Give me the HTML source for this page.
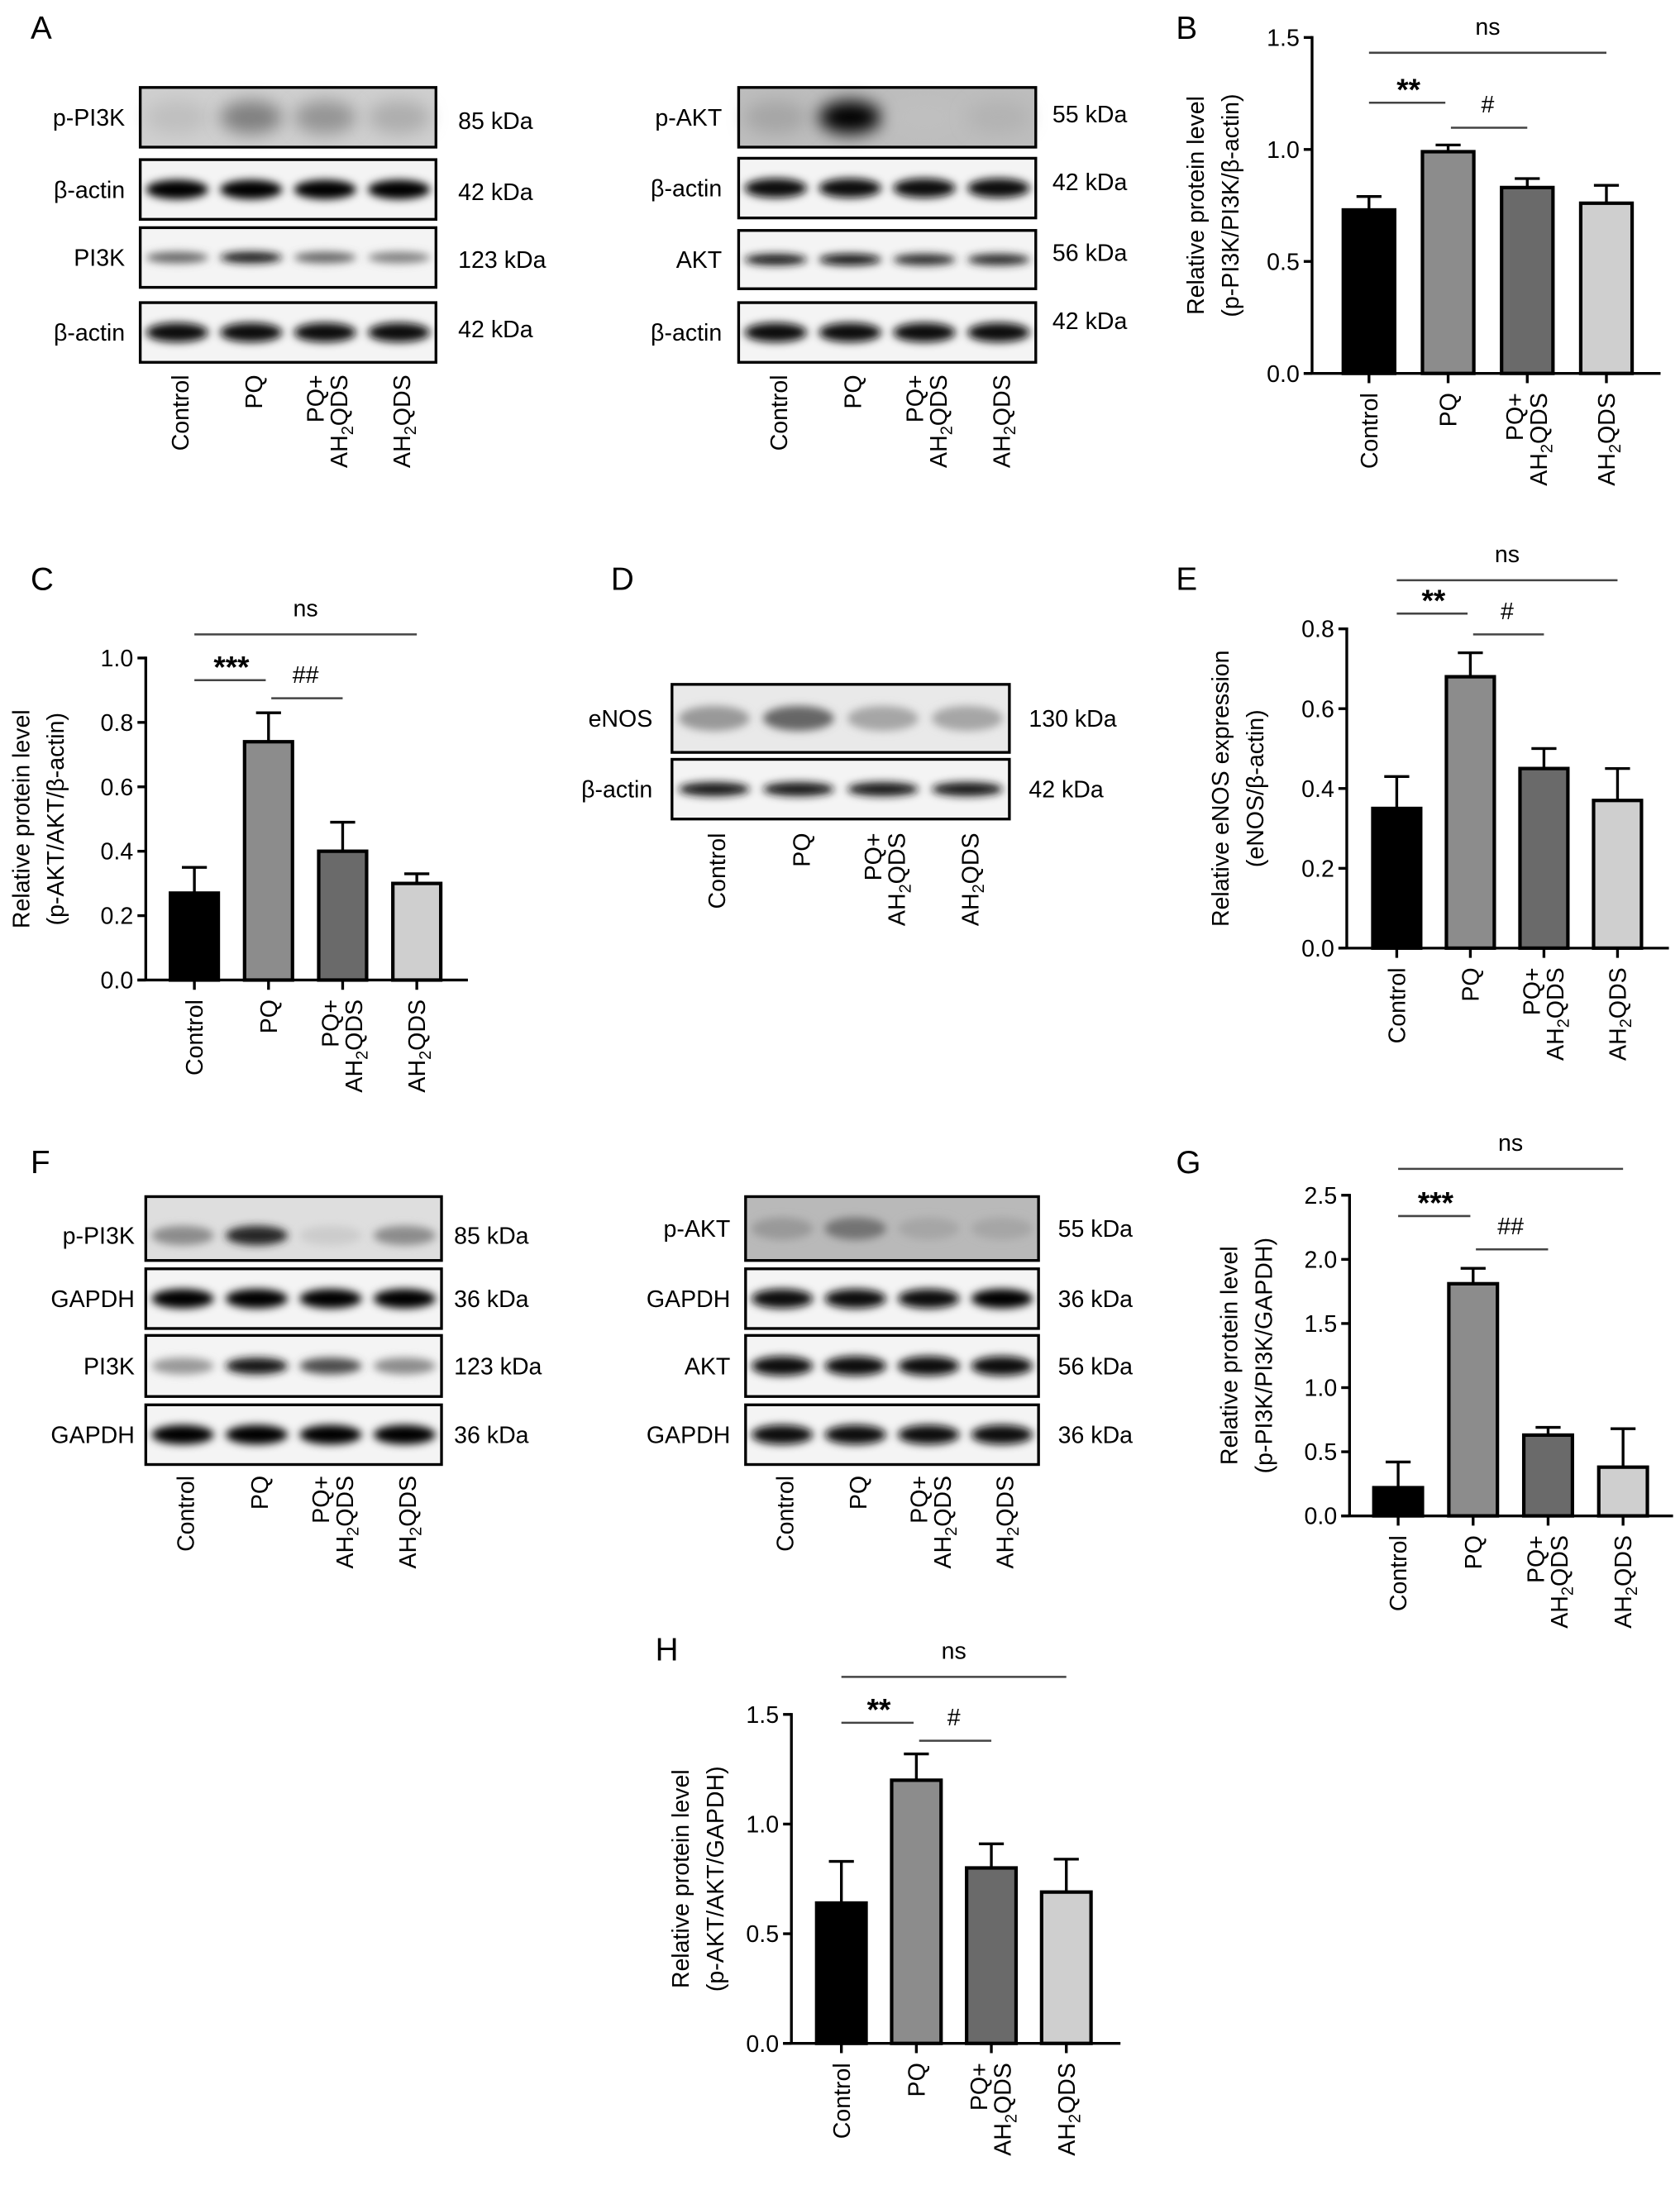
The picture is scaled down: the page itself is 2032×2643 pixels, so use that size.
<!DOCTYPE html>
<html><head><meta charset="utf-8">
<style>
html,body{margin:0;padding:0;background:#fff;}
svg{display:block;font-family:"Liberation Sans",Arial,sans-serif;}
</style></head>
<body>
<svg id="fig" width="2032" height="2643" viewBox="0 0 1210 1574" preserveAspectRatio="none" xmlns="http://www.w3.org/2000/svg">
<defs>
<filter id="blur" x="-50%" y="-100%" width="200%" height="300%"><feGaussianBlur stdDeviation="3"/></filter>
<filter id="blur2" x="-50%" y="-100%" width="200%" height="300%"><feGaussianBlur stdDeviation="6"/></filter>
</defs>
</svg>
<script>
// ---------- chart data ----------
const categories = ["Control","PQ","PQ+ AH2QDS","AH2QDS"];
const barFills = ["#000000","#8c8c8c","#6a6a6a","#cfcfcf"];

const bValues = [0.73, 0.99, 0.83, 0.76];
const bErrors = [0.06, 0.03, 0.04, 0.08];
const bTicks = [0.0, 0.5, 1.0, 1.5];

const cValues = [0.27, 0.74, 0.40, 0.30];
const cErrors = [0.08, 0.09, 0.09, 0.03];
const cTicks = [0.0, 0.2, 0.4, 0.6, 0.8, 1.0];

const eValues = [0.35, 0.68, 0.45, 0.37];
const eErrors = [0.08, 0.06, 0.05, 0.08];
const eTicks = [0.0, 0.2, 0.4, 0.6, 0.8];

const gValues = [0.22, 1.81, 0.63, 0.38];
const gErrors = [0.20, 0.12, 0.06, 0.30];
const gTicks = [0.0, 0.5, 1.0, 1.5, 2.0, 2.5];

const hValues = [0.64, 1.20, 0.80, 0.69];
const hErrors = [0.19, 0.12, 0.11, 0.15];
const hTicks = [0.0, 0.5, 1.0, 1.5];

// ---------- helpers ----------
const NS = "http://www.w3.org/2000/svg";
const svg = document.getElementById("fig");
function mk(tag, attrs, parent, text){
  const e = document.createElementNS(NS, tag);
  for (const k in attrs) e.setAttribute(k, attrs[k]);
  if (text !== undefined) e.textContent = text;
  (parent || svg).appendChild(e);
  return e;
}
function grp(name, parent){
  const g = mk("g", {}, parent);
  
  
  return g;
}
function label(parent, x, y, txt, size, anchor, name, weight){
  const t = mk("text", {x:x, y:y, "font-size":size, "text-anchor":anchor||"start", "font-weight":weight||"normal"}, parent, txt);
  
  
  return t;
}
function panelLetter(x, y, L){
  label(svg, x, y, L, 23, "start", "panel-letter-" + L.toLowerCase());
}
function catLabel(parent, cx, y0, cat, size){
  const g = grp("category-label", parent);
  if (cat === "PQ+ AH2QDS"){
    mk("text", {transform:`translate(${cx-3},${y0}) rotate(-90)`, "font-size":size, "text-anchor":"end"}, g, "PQ+");
    const t2 = mk("text", {transform:`translate(${cx+14},${y0}) rotate(-90)`, "font-size":size, "text-anchor":"end"}, g);
    mk("tspan", {}, t2, "AH");
    mk("tspan", {"font-size":size*0.7, dy:4}, t2, "2");
    mk("tspan", {dy:-4}, t2, "QDS");
  } else if (cat === "AH2QDS"){
    const t = mk("text", {transform:`translate(${cx+6},${y0}) rotate(-90)`, "font-size":size, "text-anchor":"end"}, g);
    mk("tspan", {}, t, "AH");
    mk("tspan", {"font-size":size*0.7, dy:4}, t, "2");
    mk("tspan", {dy:-4}, t, "QDS");
  } else {
    mk("text", {transform:`translate(${cx+6},${y0}) rotate(-90)`, "font-size":size, "text-anchor":"end"}, g, cat);
  }
}

// ---------- bar chart ----------
function barChart(opt){
  const g = grp(opt.name);
  const {ax, y0, yTop, tMin, tMax, x0, step, bw} = opt;
  const yScale = v => y0 - (v - tMin) / (tMax - tMin) * (y0 - yTop);
  const xScale = i => x0 + i * step;
  const yA = mk("line", {x1:ax, y1:yTop-1, x2:ax, y2:y0, stroke:"#000","stroke-width":2}, g);
   
  const xA = mk("line", {x1:ax-6, y1:y0, x2:opt.xEnd, y2:y0, stroke:"#000","stroke-width":2}, g);
   
  opt.ticks.forEach(t => {
    const y = yScale(t);
    const tk = mk("line", {x1:ax-6, y1:y, x2:ax, y2:y, stroke:"#000","stroke-width":2}, g);
     
    label(g, ax-9, y+6, t.toFixed(1), 17, "end", "y-tick-label");
  });
  const tt = mk("text", {transform:`translate(${opt.titleX},${(y0+yTop)/2}) rotate(-90)`, "font-size":17, "text-anchor":"middle"}, g);
   
  mk("tspan", {x:0, y:0}, tt, opt.title1);
  mk("tspan", {x:0, y:25}, tt, opt.title2);
  opt.values.forEach((v, i) => {
    const cx = xScale(i);
    const top = yScale(v);
    const eTop = yScale(v + opt.errors[i]);
    const el = mk("line", {x1:cx, y1:eTop, x2:cx, y2:top, stroke:"#000","stroke-width":2}, g);
     
    const cap = mk("line", {x1:cx-9, y1:eTop, x2:cx+9, y2:eTop, stroke:"#000","stroke-width":2}, g);
     
    const r = mk("rect", {x:cx-bw/2, y:top, width:bw, height:y0-top, fill:barFills[i], stroke:"#000","stroke-width":2.5}, g);
    
    
    const tk = mk("line", {x1:cx, y1:y0, x2:cx, y2:y0+7, stroke:"#000","stroke-width":2}, g);
     
    catLabel(g, cx, y0+14, categories[i], 17);
  });
  const s = opt.sig;
  const l1 = mk("line", {x1:xScale(0), y1:s.ns, x2:xScale(3), y2:s.ns, stroke:"#444","stroke-width":1.5}, g);
   
  label(g, (xScale(0)+xScale(3))/2, s.ns-13, "ns", 17, "middle", "ns-label");
  const l2 = mk("line", {x1:xScale(0), y1:s.a, x2:xScale(1)-2, y2:s.a, stroke:"#444","stroke-width":1.5}, g);
   
  label(g, (xScale(0)+xScale(1))/2, s.a-2, s.aTxt, 22, "middle", "star-label", "bold");
  const l3 = mk("line", {x1:xScale(1)+2, y1:s.b, x2:xScale(2), y2:s.b, stroke:"#444","stroke-width":1.5}, g);
   
  label(g, (xScale(1)+xScale(2))/2, s.b-11, s.bTxt, 17, "middle", "hash-label");
}

barChart({name:"chart-b", ax:945, y0:269, yTop:27, tMin:0, tMax:1.5, x0:986, step:57, bw:37, xEnd:1196,
  ticks:bTicks, values:bValues, errors:bErrors, titleX:867,
  title1:"Relative protein level", title2:"(p-PI3K/PI3K/\u03b2-actin)",
  sig:{ns:38, a:74, aTxt:"**", b:92, bTxt:"#"}});
barChart({name:"chart-c", ax:105, y0:706, yTop:474, tMin:0, tMax:1.0, x0:140, step:53.4, bw:34.5, xEnd:337,
  ticks:cTicks, values:cValues, errors:cErrors, titleX:21,
  title1:"Relative protein level", title2:"(p-AKT/AKT/\u03b2-actin)",
  sig:{ns:457, a:490, aTxt:"***", b:503, bTxt:"##"}});
barChart({name:"chart-e", ax:970, y0:683, yTop:453, tMin:0, tMax:0.8, x0:1006, step:53, bw:34.5, xEnd:1202,
  ticks:eTicks, values:eValues, errors:eErrors, titleX:885,
  title1:"Relative eNOS expression", title2:"(eNOS/\u03b2-actin)",
  sig:{ns:418, a:442, aTxt:"**", b:457, bTxt:"#"}});
barChart({name:"chart-g", ax:972, y0:1092, yTop:861, tMin:0, tMax:2.5, x0:1007, step:54, bw:35, xEnd:1205,
  ticks:gTicks, values:gValues, errors:gErrors, titleX:891,
  title1:"Relative protein level", title2:"(p-PI3K/PI3K/GAPDH)",
  sig:{ns:842, a:876, aTxt:"***", b:900, bTxt:"##"}});
barChart({name:"chart-h", ax:570, y0:1472, yTop:1235, tMin:0, tMax:1.5, x0:606, step:54, bw:35.6, xEnd:807,
  ticks:hTicks, values:hValues, errors:hErrors, titleX:496,
  title1:"Relative protein level", title2:"(p-AKT/AKT/GAPDH)",
  sig:{ns:1208, a:1241, aTxt:"**", b:1254, bTxt:"#"}});

// ---------- western blots ----------
function blot(name, x1, x2, rows, labelX, kdaX, laneY){
  const g = grp(name);
  const lanes = 4, w = (x2 - x1) / lanes;
  rows.forEach(r => {
    const rg = grp("blot-row-" + r.label.replace(/[^A-Za-z0-9]+/g,'-').toLowerCase(), g);
    mk("rect", {x:x1, y:r.y1, width:x2-x1, height:r.y2-r.y1, fill:r.bg||"#f4f4f4"}, rg);
    const cy = (r.y1 + r.y2) / 2 + (r.off||0);
    r.ints.forEach((v, i) => {
      const cx = x1 + w*(i+0.5);
      const c = Math.round(255*(1-v));
      mk("ellipse", {cx:cx, cy:cy, rx:w*(r.rx||0.42), ry:r.ry||7, fill:`rgb(${c},${c},${c})`, filter:(r.ry>10?"url(#blur2)":"url(#blur)")}, rg);
    });
    mk("rect", {x:x1, y:r.y1, width:x2-x1, height:r.y2-r.y1, fill:"none", stroke:"#000","stroke-width":2}, rg);
    const lab = r.label === "b-actin" ? "\u03b2-actin" : r.label;
    label(rg, labelX, cy+6, lab, 17, "end", "blot-label");
    label(rg, kdaX, (r.kdaY||cy+6), r.kda, 17, "start", "kda-label");
  });
  for (let i = 0; i < lanes; i++) catLabel(g, x1 + w*(i+0.5) + 2, laneY, categories[i], 17);
}
blot("blot-a-left", 101, 314, [
  {label:"p-PI3K", y1:63, y2:106, ints:[0.25,0.5,0.42,0.32], kda:"85 kDa", ry:12, bg:"#cfcfcf", kdaY:93},
  {label:"b-actin", y1:115, y2:158, ints:[1,1,1,1], kda:"42 kDa", kdaY:144},
  {label:"PI3K", y1:164, y2:207, ints:[0.6,0.9,0.6,0.5], kda:"123 kDa", ry:4, kdaY:193},
  {label:"b-actin", y1:218, y2:261, ints:[0.95,0.95,0.95,0.95], kda:"42 kDa", kdaY:243}
], 90, 330, 270);
blot("blot-a-right", 532, 746, [
  {label:"p-AKT", y1:63, y2:106, ints:[0.35,1,0.25,0.3], kda:"55 kDa", ry:12, bg:"#bdbdbd", kdaY:88},
  {label:"b-actin", y1:114, y2:157, ints:[0.95,0.95,0.95,0.95], kda:"42 kDa", kdaY:137},
  {label:"AKT", y1:166, y2:208, ints:[0.9,0.95,0.85,0.85], kda:"56 kDa", ry:4, kdaY:188},
  {label:"b-actin", y1:218, y2:261, ints:[0.95,0.95,0.95,0.95], kda:"42 kDa", kdaY:237}
], 520, 758, 270);
blot("blot-d", 484, 727, [
  {label:"eNOS", y1:493, y2:542, ints:[0.4,0.6,0.35,0.35], kda:"130 kDa", ry:9, bg:"#e9e9e9"},
  {label:"b-actin", y1:547, y2:590, ints:[0.9,0.9,0.9,0.9], kda:"42 kDa", ry:5}
], 470, 741, 600);
blot("blot-f-left", 105, 318, [
  {label:"p-PI3K", y1:862, y2:908, ints:[0.45,0.85,0.2,0.45], kda:"85 kDa", ry:7, bg:"#dedede", off:5},
  {label:"GAPDH", y1:914, y2:957, ints:[1,1,1,1], kda:"36 kDa"},
  {label:"PI3K", y1:962, y2:1006, ints:[0.4,0.9,0.7,0.45], kda:"123 kDa", ry:6},
  {label:"GAPDH", y1:1012, y2:1055, ints:[1,1,1,1], kda:"36 kDa"}
], 97, 327, 1063);
blot("blot-f-right", 537, 748, [
  {label:"p-AKT", y1:862, y2:908, ints:[0.4,0.55,0.35,0.35], kda:"55 kDa", ry:8, bg:"#b9b9b9"},
  {label:"GAPDH", y1:914, y2:957, ints:[0.95,0.95,0.95,1], kda:"36 kDa"},
  {label:"AKT", y1:962, y2:1006, ints:[0.95,0.95,0.95,0.95], kda:"56 kDa"},
  {label:"GAPDH", y1:1012, y2:1055, ints:[0.95,0.95,0.95,0.95], kda:"36 kDa"}
], 526, 762, 1063);

panelLetter(22, 28, "A");
panelLetter(847, 28, "B");
panelLetter(22, 425, "C");
panelLetter(440, 425, "D");
panelLetter(847, 425, "E");
panelLetter(22, 845, "F");
panelLetter(847, 845, "G");
panelLetter(472, 1196, "H");
</script>
</body></html>
